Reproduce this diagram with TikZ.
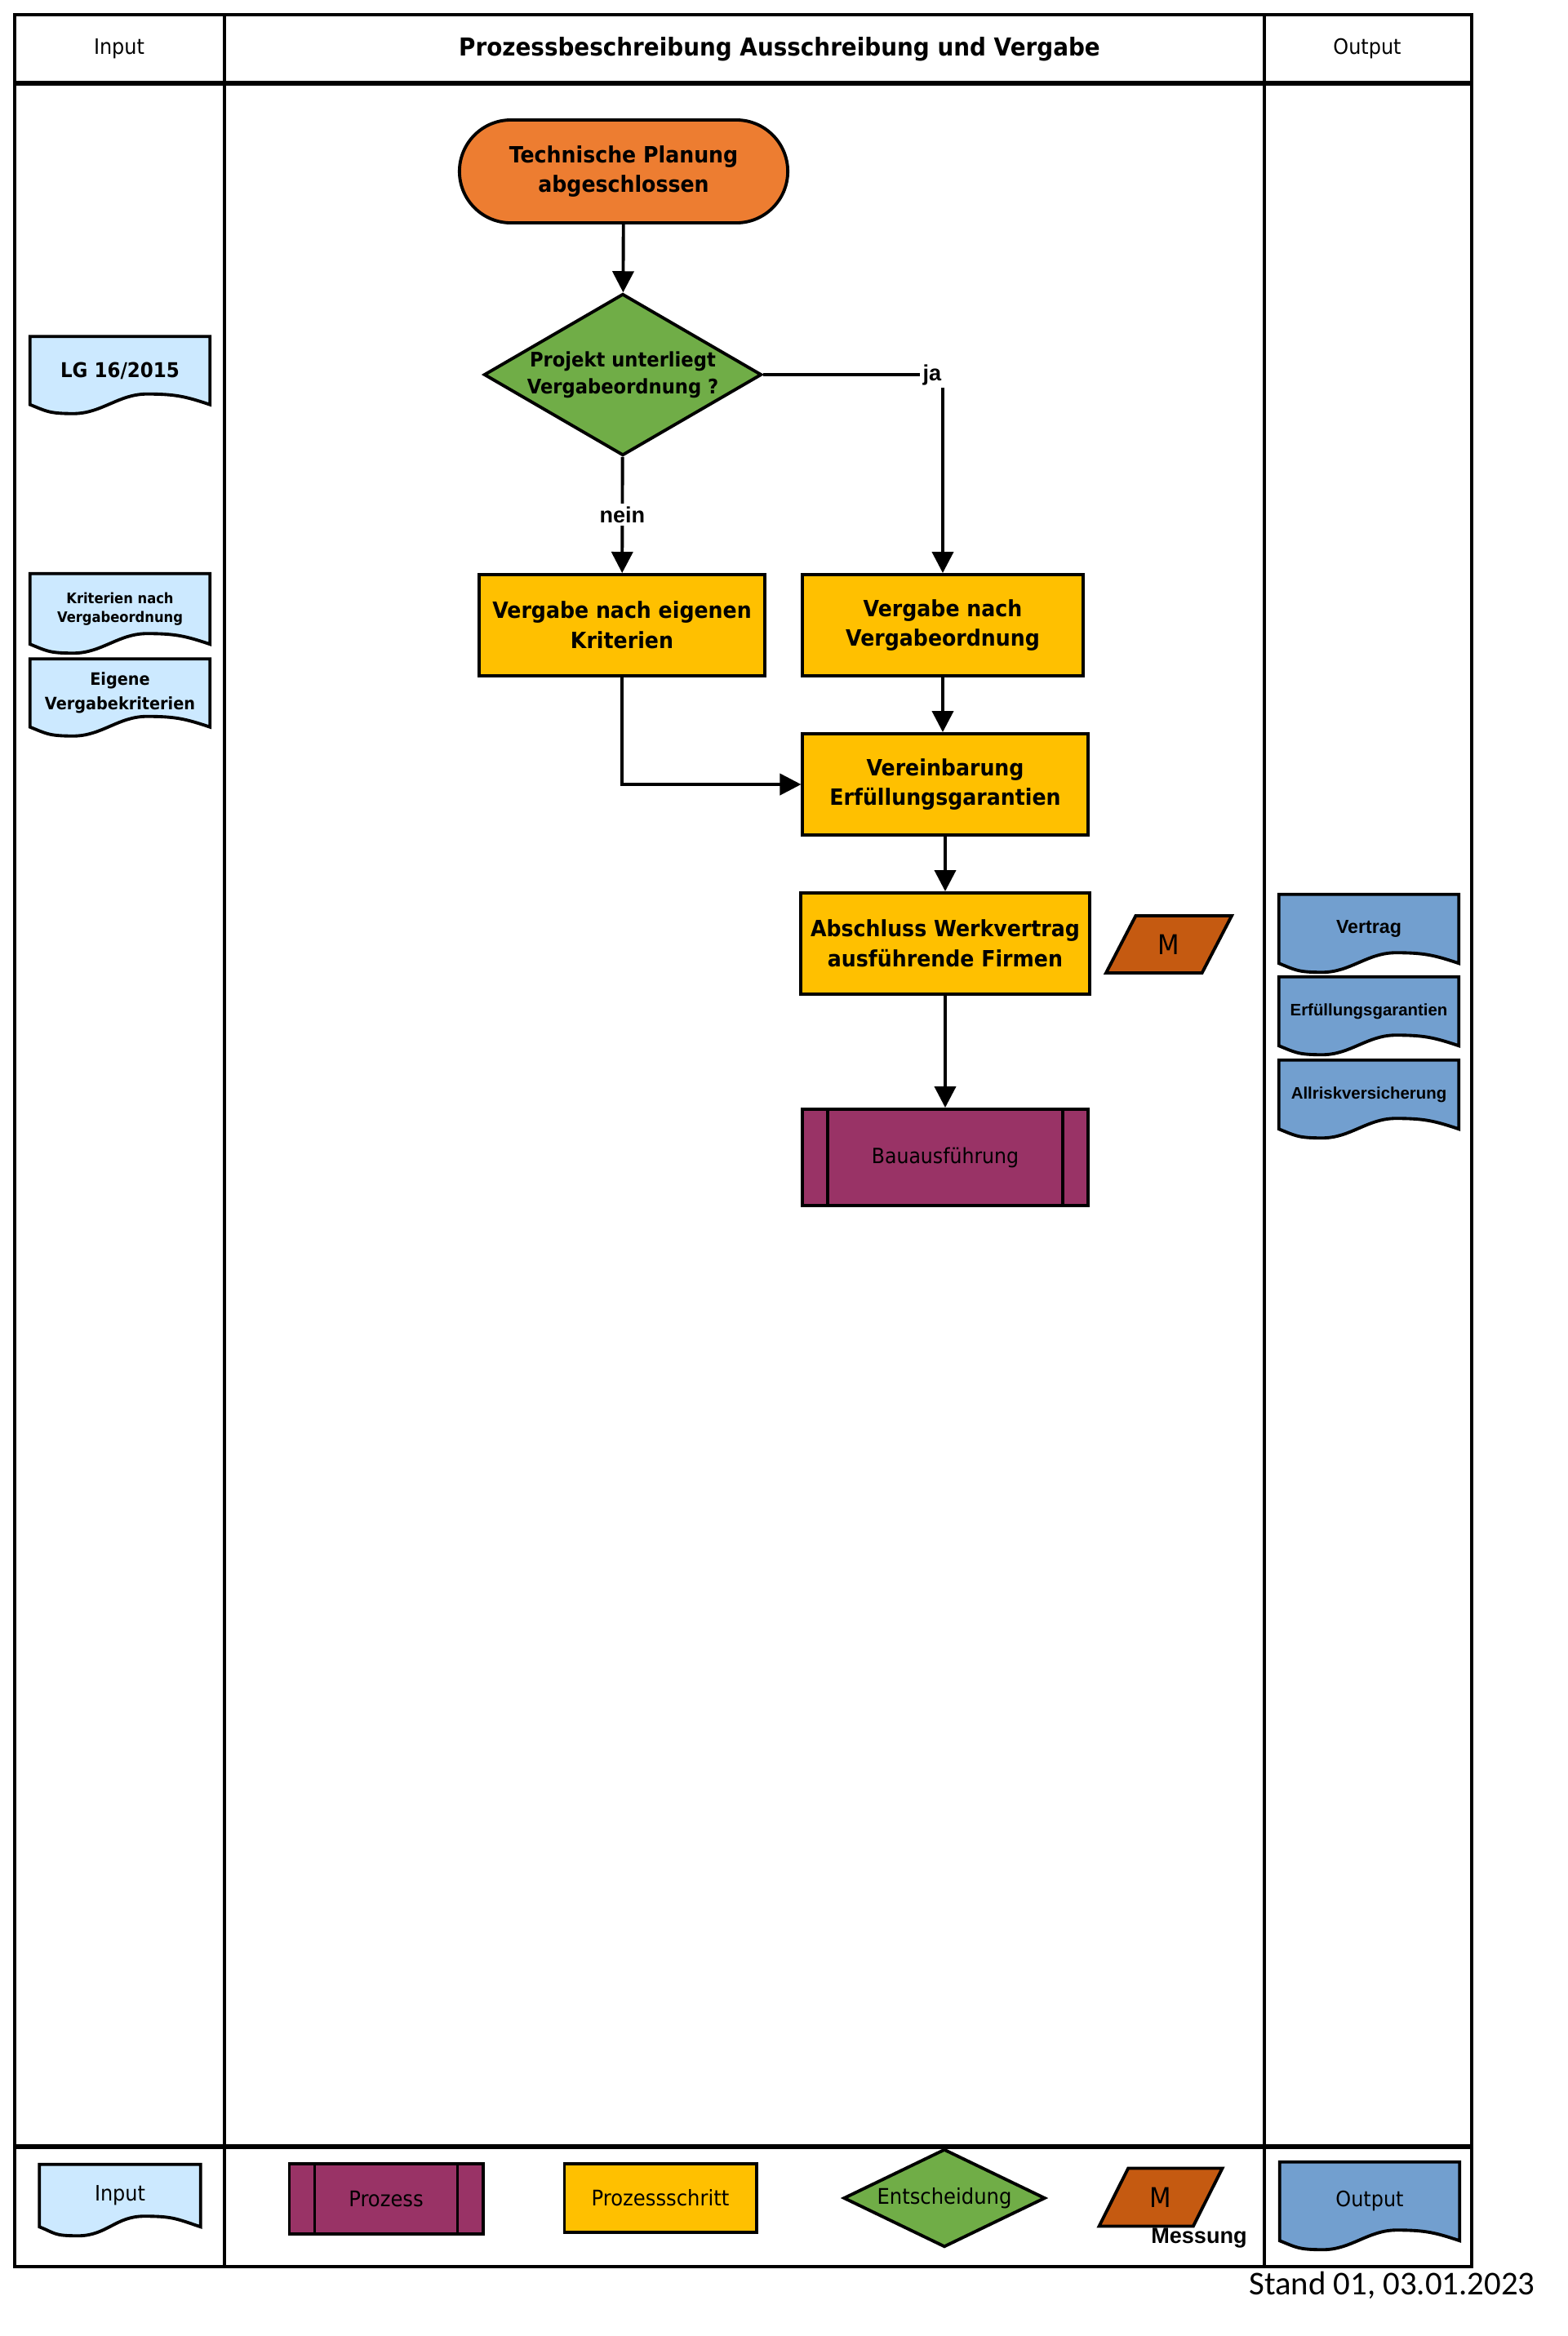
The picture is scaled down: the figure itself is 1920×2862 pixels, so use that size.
\documentclass[tikz,border=0pt]{standalone}
\usepackage{fontspec}
\usetikzlibrary{shapes.geometric, arrows.meta, calc, backgrounds}
\newfontfamily\tahoma[FakeStretch=0.92]{DejaVu Sans}
\newfontfamily\arial{Liberation Sans}
\newfontfamily\calibri{Carlito}
\definecolor{ccorange}{RGB}{237,125,49}
\definecolor{ccgruen}{RGB}{112,173,71}
\definecolor{ccgelb}{RGB}{255,192,0}
\definecolor{cclila}{RGB}{153,51,102}
\definecolor{ccmess}{RGB}{197,90,17}
\definecolor{cchell}{RGB}{204,233,255}
\definecolor{ccblau}{RGB}{114,159,207}

% Forme document (bord inferieur en vague), dessinee sous le noeud
\newcommand{\docforme}[2]{%
  \begin{scope}[on background layer]
  \draw[line width=1.1pt, fill=#2] (#1.south west) -- (#1.north west) -- (#1.north east) -- (#1.south east)
    .. controls +(-30,-10) and +(35,0) .. ($(#1.south west)!0.65!(#1.south east)+(0,-13)$)
    .. controls +(-35,0) and +(35,0) .. ($(#1.south west)!0.24!(#1.south east)+(0,11)$)
    .. controls +(-30,0) and +(20,8) .. (#1.south west) -- cycle;
  \end{scope}}

\begin{document}
\begin{tikzpicture}[x=0.01cm, y=-0.01cm]

  % Styles
  \tikzstyle{trait} = [line width=1.1pt]
  \tikzstyle{fleche} = [-{Triangle[length=0.26cm, width=0.26cm]}, line width=1.1pt]
  \tikzstyle{kopf} = [font=\tahoma\fontsize{7.4}{9}\selectfont]
  \tikzstyle{terminal} = [draw, trait, fill=ccorange, rounded corners=0.63cm, minimum width=4.02cm, minimum height=1.26cm, align=center, font=\tahoma\bfseries\fontsize{7.8}{10.5}\selectfont]
  \tikzstyle{entscheid} = [diamond, draw, trait, fill=ccgruen, inner sep=0pt, align=center]
  \tikzstyle{schritt} = [draw, trait, fill=ccgelb, minimum width=3.49cm, minimum height=1.24cm, align=center, font=\tahoma\bfseries\fontsize{7.8}{10.5}\selectfont]
  \tikzstyle{prozess} = [draw, trait, fill=cclila, align=center, path picture={
      \draw[trait] ([xshift=0.31cm]path picture bounding box.north west) -- ([xshift=0.31cm]path picture bounding box.south west);
      \draw[trait] ([xshift=-0.31cm]path picture bounding box.north east) -- ([xshift=-0.31cm]path picture bounding box.south east);}]
  \tikzstyle{messung} = [trapezium, trapezium left angle=64, trapezium right angle=116, trapezium stretches=true, draw, trait, fill=ccmess, inner sep=0pt, font=\tahoma\fontsize{9.5}{11}\selectfont]
  \tikzstyle{docu} = [minimum width=2.19cm, minimum height=0.82cm, inner sep=0pt, align=center]
  \tikzstyle{etiquette} = [fill=white, inner sep=1pt, font=\arial\bfseries\fontsize{7.7}{9}\selectfont]

  % Cadre
  \useasboundingbox (0,0) rectangle (1920,2862);
  \draw[trait] (18,18) rectangle (1803,2777);
  \draw[trait] (275,18) -- (275,2777);
  \draw[trait] (1549,18) -- (1549,2777);
  \draw[line width=1.8pt] (18,102) -- (1803,102);
  \draw[line width=1.8pt] (18,2630) -- (1803,2630);

  % En-tete
  \draw (146,60) node[kopf] (kin) {Input};
  \draw (955,60) node[font=\tahoma\bfseries\fontsize{8.6}{10}\selectfont] (titel) {Prozessbeschreibung Ausschreibung und Vergabe};
  \draw (1675,60) node[kopf] (kout) {Output};

  % Noeuds du processus
  \draw (764,210) node[terminal] (start) {Technische Planung\\abgeschlossen};
  \draw (763,459) node[entscheid, minimum width=3.40cm, minimum height=1.98cm, shape aspect=1.72, font=\tahoma\bfseries\fontsize{7}{9.4}\selectfont] (dec) {Projekt unterliegt\\Vergabeordnung ?};
  \draw (762,766) node[schritt] (eigen) {Vergabe nach eigenen\\Kriterien};
  \draw (1155,766) node[schritt, minimum width=3.43cm] (vo) {Vergabe nach\\Vergabeordnung};
  \draw (1158,961) node[schritt] (verein) {Vereinbarung\\Erfüllungsgarantien};
  \draw (1158,1156) node[schritt] (abschluss) {Abschluss Werkvertrag\\ausführende Firmen};
  \draw (1158,1418) node[prozess, minimum width=3.49cm, minimum height=1.18cm, font=\tahoma\fontsize{7.3}{9}\selectfont] (bau) {Bauausführung};
  \draw (1432,1157) node[messung, minimum width=1.54cm, minimum height=0.70cm] (m1) {M};

  % Fleches
  \draw[fleche] (start) -- (dec);
  \draw[fleche] (dec.east) -| node[etiquette, pos=0.47] (ja) {ja} (vo);
  \draw[fleche] (dec) -- node[etiquette] (nein) {nein} (eigen);
  \draw[fleche] (vo) -- (vo |- verein.north);
  \draw[fleche] (eigen) |- (verein);
  \draw[fleche] (verein) -- (abschluss);
  \draw[fleche] (abschluss) -- (bau);

  % Input
  \draw (147,454) node[docu, font=\tahoma\bfseries\fontsize{7.1}{9}\selectfont] (lg) {LG 16/2015};
  \docforme{lg}{cchell}
  \draw (147,746) node[docu, minimum height=0.85cm, font=\tahoma\bfseries\fontsize{5.05}{6.6}\selectfont] (krit) {Kriterien nach\\Vergabeordnung};
  \docforme{krit}{cchell}
  \draw (147,849) node[docu, font=\tahoma\bfseries\fontsize{5.95}{8.5}\selectfont] (eig) {Eigene\\Vergabekriterien};
  \docforme{eig}{cchell}

  % Output
  \draw (1677,1138) node[docu, minimum height=0.83cm, font=\arial\bfseries\fontsize{6.6}{8}\selectfont] (vertrag) {Vertrag};
  \docforme{vertrag}{ccblau}
  \draw (1677,1239) node[docu, minimum height=0.83cm, font=\arial\bfseries\fontsize{5.8}{7}\selectfont] (garant) {Erfüllungsgarantien};
  \docforme{garant}{ccblau}
  \draw (1677,1341) node[docu, minimum height=0.83cm, font=\arial\bfseries\fontsize{5.8}{7}\selectfont] (allrisk) {Allriskversicherung};
  \docforme{allrisk}{ccblau}

  % Legende
  \draw (147,2690) node[docu, minimum width=1.96cm, minimum height=0.75cm, kopf] (lin) {Input};
  \docforme{lin}{cchell}
  \draw (473,2694) node[prozess, minimum width=2.37cm, minimum height=0.86cm, font=\tahoma\fontsize{7.5}{9}\selectfont] (lpro) {Prozess};
  \draw (809,2693) node[schritt, minimum width=2.35cm, minimum height=0.84cm, font=\tahoma\fontsize{7.5}{9}\selectfont] (lschritt) {Prozessschritt};
  \draw (1157,2693) node[entscheid, minimum width=2.47cm, minimum height=1.20cm, shape aspect=2.06, font=\tahoma\fontsize{7.5}{9}\selectfont] (lent) {Entscheidung};
  \draw (1422,2692) node[messung, minimum width=1.51cm, minimum height=0.71cm] (lm) {M};
  \draw (1469,2742) node[font=\arial\bfseries\fontsize{7.7}{9}\selectfont] (lmess) {Messung};
  \draw (1678,2697) node[docu, minimum height=0.95cm, kopf] (lout) {Output};
  \docforme{lout}{ccblau}

  \draw (1893,2800) node[anchor=east, font=\calibri\fontsize{11.6}{13}\selectfont] (stand) {Stand 01, 03.01.2023};

\end{tikzpicture}
\end{document}
